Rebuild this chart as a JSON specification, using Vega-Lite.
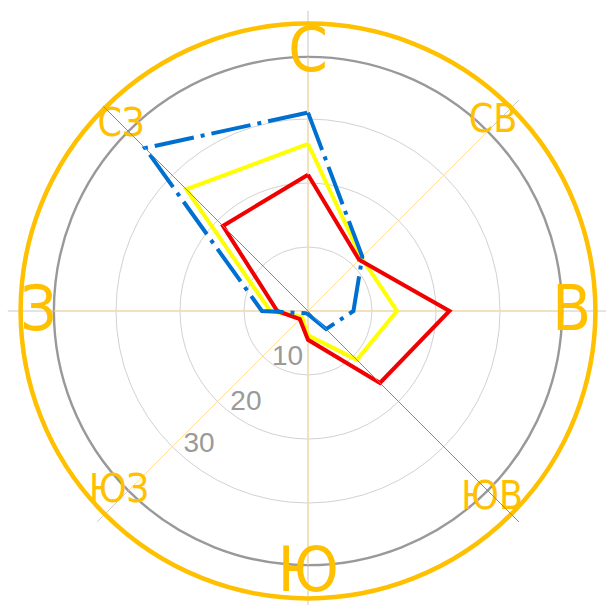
{
  "$schema": "https://vega.github.io/schema/vega-lite/v6.json",
  "width": 590,
  "height": 590,
  "autosize": {"type": "none"},
  "padding": {"left": 13, "top": 16, "right": 3, "bottom": 0},
  "background": "white",
  "config": {"view": {"stroke": null}, "axis": {"disable": true}},
  "datasets": {
    "series": [
      {"s": "blue", "dir": "С", "angle": 0, "v": 31.0, "o": 0},
      {"s": "blue", "dir": "СВ", "angle": 45, "v": 12.0, "o": 1},
      {"s": "blue", "dir": "В", "angle": 90, "v": 7.1, "o": 2},
      {"s": "blue", "dir": "ЮВ", "angle": 135, "v": 4.0, "o": 3},
      {"s": "blue", "dir": "Ю", "angle": 180, "v": 0.5, "o": 4},
      {"s": "blue", "dir": "ЮЗ", "angle": 225, "v": 0.5, "o": 5},
      {"s": "blue", "dir": "З", "angle": 270, "v": 7.2, "o": 6},
      {"s": "blue", "dir": "СЗ", "angle": 315, "v": 36.0, "o": 7},
      {"s": "blue", "dir": "С", "angle": 360, "v": 31.0, "o": 8},
      {"s": "yellow", "dir": "С", "angle": 0, "v": 26.1, "o": 0},
      {"s": "yellow", "dir": "СВ", "angle": 45, "v": 11.8, "o": 1},
      {"s": "yellow", "dir": "В", "angle": 90, "v": 13.9, "o": 2},
      {"s": "yellow", "dir": "ЮВ", "angle": 135, "v": 10.8, "o": 3},
      {"s": "yellow", "dir": "Ю", "angle": 180, "v": 3.8, "o": 4},
      {"s": "yellow", "dir": "ЮЗ", "angle": 225, "v": 1.3, "o": 5},
      {"s": "yellow", "dir": "З", "angle": 270, "v": 5.9, "o": 6},
      {"s": "yellow", "dir": "СЗ", "angle": 315, "v": 26.9, "o": 7},
      {"s": "yellow", "dir": "С", "angle": 360, "v": 26.1, "o": 8},
      {"s": "red", "dir": "С", "angle": 0, "v": 21.3, "o": 0},
      {"s": "red", "dir": "СВ", "angle": 45, "v": 11.3, "o": 1},
      {"s": "red", "dir": "В", "angle": 90, "v": 22.1, "o": 2},
      {"s": "red", "dir": "ЮВ", "angle": 135, "v": 15.9, "o": 3},
      {"s": "red", "dir": "Ю", "angle": 180, "v": 4.5, "o": 4},
      {"s": "red", "dir": "ЮЗ", "angle": 225, "v": 1.8, "o": 5},
      {"s": "red", "dir": "З", "angle": 270, "v": 4.8, "o": 6},
      {"s": "red", "dir": "СЗ", "angle": 315, "v": 18.8, "o": 7},
      {"s": "red", "dir": "С", "angle": 360, "v": 21.3, "o": 8}
    ],
    "spokesOuter": [
      {"angle": 0, "r1": -46.9, "r2": 46.9},
      {"angle": 45, "r1": -46.6, "r2": 46.6},
      {"angle": 90, "r1": -46.9, "r2": 46.9}
    ],
    "spokesInner": [
      {"angle": 0, "r1": -39.7, "r2": 39.7},
      {"angle": 45, "r1": -39.7, "r2": 39.7},
      {"angle": 90, "r1": -39.7, "r2": 39.7}
    ],
    "diag": [
      {"angle": 135, "r1": -45.2, "r2": 46.6}
    ],
    "rings": [{"r": 10}, {"r": 20}, {"r": 30}],
    "rim": [{"r": 39.7}],
    "outer": [{"r": 44.9}],
    "ringLabels": [
      {"label": "10", "angle": 204.5, "r": 7.72},
      {"label": "20", "angle": 214.6, "r": 17.08},
      {"label": "30", "angle": 219.6, "r": 26.69}
    ],
    "bigDirs": [
      {"label": "С", "angle": 0, "r": 40.5},
      {"label": "В", "angle": 90, "r": 41.2},
      {"label": "Ю", "angle": 180, "r": 40.8},
      {"label": "З", "angle": 270, "r": 42.1}
    ],
    "smallDirs": [
      {"label": "СВ", "angle": 43.9, "r": 41.7},
      {"label": "ЮВ", "angle": 135.2, "r": 40.8},
      {"label": "ЮЗ", "angle": 226.7, "r": 40.6},
      {"label": "СЗ", "angle": 315.1, "r": 41.4}
    ]
  },
  "layer": [
    {
      "data": {"name": "spokesOuter"},
      "transform": [
        {"calculate": "datum.r1 * sin(datum.angle * PI / 180)", "as": "x"},
        {"calculate": "datum.r1 * cos(datum.angle * PI / 180)", "as": "y"},
        {"calculate": "datum.r2 * sin(datum.angle * PI / 180)", "as": "x2"},
        {"calculate": "datum.r2 * cos(datum.angle * PI / 180)", "as": "y2"}
      ],
      "mark": {"type": "rule", "stroke": "#c8c8c8", "strokeWidth": 1},
      "encoding": {
        "x": {"field": "x", "type": "quantitative", "scale": {"domain": [-46.09, 46.09], "nice": false, "zero": false}, "axis": null},
        "y": {"field": "y", "type": "quantitative", "scale": {"domain": [-46.09, 46.09], "nice": false, "zero": false}, "axis": null},
        "x2": {"field": "x2"},
        "y2": {"field": "y2"}
      }
    },
    {
      "data": {"name": "rings"},
      "mark": {"type": "arc", "theta": 0, "theta2": 6.2832, "fillOpacity": 0, "stroke": "#d2d2d2", "strokeWidth": 1},
      "encoding": {
        "radius": {"field": "r", "type": "quantitative", "stack": null, "scale": {"type": "linear", "domain": [0, 46.09], "range": [0, 295], "zero": true}}
      }
    },
    {
      "data": {"name": "rim"},
      "mark": {"type": "arc", "theta": 0, "theta2": 6.2832, "fillOpacity": 0, "stroke": "#999999", "strokeWidth": 2.4},
      "encoding": {
        "radius": {"field": "r", "type": "quantitative", "stack": null, "scale": {"type": "linear", "domain": [0, 46.09], "range": [0, 295], "zero": true}}
      }
    },
    {
      "data": {"name": "spokesInner"},
      "transform": [
        {"calculate": "datum.r1 * sin(datum.angle * PI / 180)", "as": "x"},
        {"calculate": "datum.r1 * cos(datum.angle * PI / 180)", "as": "y"},
        {"calculate": "datum.r2 * sin(datum.angle * PI / 180)", "as": "x2"},
        {"calculate": "datum.r2 * cos(datum.angle * PI / 180)", "as": "y2"}
      ],
      "mark": {"type": "rule", "stroke": "#ffdf9c", "strokeWidth": 1},
      "encoding": {
        "x": {"field": "x", "type": "quantitative", "axis": null},
        "y": {"field": "y", "type": "quantitative", "axis": null},
        "x2": {"field": "x2"},
        "y2": {"field": "y2"}
      }
    },
    {
      "data": {"name": "outer"},
      "mark": {"type": "arc", "theta": 0, "theta2": 6.2832, "fillOpacity": 0, "stroke": "#ffc000", "strokeWidth": 4.5},
      "encoding": {
        "radius": {"field": "r", "type": "quantitative", "stack": null, "scale": {"type": "linear", "domain": [0, 46.09], "range": [0, 295], "zero": true}}
      }
    },
    {
      "data": {"name": "ringLabels"},
      "transform": [
        {"calculate": "datum.r * sin(datum.angle * PI / 180)", "as": "x"},
        {"calculate": "datum.r * cos(datum.angle * PI / 180)", "as": "y"}
      ],
      "mark": {"type": "text", "font": "Liberation Sans", "fontSize": 28, "fill": "#9a9a9a", "align": "center", "baseline": "middle", "dy": 1},
      "encoding": {
        "x": {"field": "x", "type": "quantitative", "axis": null},
        "y": {"field": "y", "type": "quantitative", "axis": null},
        "text": {"field": "label"}
      }
    },
    {
      "data": {"name": "bigDirs"},
      "transform": [
        {"calculate": "datum.r * sin(datum.angle * PI / 180)", "as": "x"},
        {"calculate": "datum.r * cos(datum.angle * PI / 180)", "as": "y"}
      ],
      "mark": {"type": "text", "font": "Liberation Sans Narrow, DejaVu Sans Condensed, Roboto Condensed, Liberation Sans", "fontSize": 63, "fill": "#ffc000", "align": "center", "baseline": "middle", "dy": 0},
      "encoding": {
        "x": {"field": "x", "type": "quantitative", "axis": null},
        "y": {"field": "y", "type": "quantitative", "axis": null},
        "text": {"field": "label"}
      }
    },
    {
      "data": {"name": "smallDirs"},
      "transform": [
        {"calculate": "datum.r * sin(datum.angle * PI / 180)", "as": "x"},
        {"calculate": "datum.r * cos(datum.angle * PI / 180)", "as": "y"}
      ],
      "mark": {"type": "text", "font": "Liberation Sans Narrow, DejaVu Sans Condensed, Roboto Condensed, Liberation Sans", "fontSize": 39, "fill": "#ffc000", "align": "center", "baseline": "middle", "dy": 1},
      "encoding": {
        "x": {"field": "x", "type": "quantitative", "axis": null},
        "y": {"field": "y", "type": "quantitative", "axis": null},
        "text": {"field": "label"}
      }
    },
    {
      "data": {"name": "series"},
      "transform": [
        {"filter": "datum.s === 'yellow'"},
        {"calculate": "datum.v * sin(datum.angle * PI / 180)", "as": "x"},
        {"calculate": "datum.v * cos(datum.angle * PI / 180)", "as": "y"}
      ],
      "mark": {"type": "line", "stroke": "#ffff00", "strokeWidth": 4, "strokeJoin": "miter"},
      "encoding": {
        "x": {"field": "x", "type": "quantitative", "axis": null},
        "y": {"field": "y", "type": "quantitative", "axis": null},
        "order": {"field": "o", "type": "quantitative"}
      }
    },
    {
      "data": {"name": "series"},
      "transform": [
        {"filter": "datum.s === 'red'"},
        {"calculate": "datum.v * sin(datum.angle * PI / 180)", "as": "x"},
        {"calculate": "datum.v * cos(datum.angle * PI / 180)", "as": "y"}
      ],
      "mark": {"type": "line", "stroke": "#f00000", "strokeWidth": 4, "strokeJoin": "miter"},
      "encoding": {
        "x": {"field": "x", "type": "quantitative", "axis": null},
        "y": {"field": "y", "type": "quantitative", "axis": null},
        "order": {"field": "o", "type": "quantitative"}
      }
    },
    {
      "data": {"name": "series"},
      "transform": [
        {"filter": "datum.s === 'blue'"},
        {"calculate": "datum.v * sin(datum.angle * PI / 180)", "as": "x"},
        {"calculate": "datum.v * cos(datum.angle * PI / 180)", "as": "y"}
      ],
      "mark": {"type": "line", "stroke": "#0070d0", "strokeWidth": 4, "strokeJoin": "miter", "strokeDash": [40, 7, 4, 7]},
      "encoding": {
        "x": {"field": "x", "type": "quantitative", "axis": null},
        "y": {"field": "y", "type": "quantitative", "axis": null},
        "order": {"field": "o", "type": "quantitative"}
      }
    },
    {
      "data": {"name": "diag"},
      "transform": [
        {"calculate": "datum.r1 * sin(datum.angle * PI / 180)", "as": "x"},
        {"calculate": "datum.r1 * cos(datum.angle * PI / 180)", "as": "y"},
        {"calculate": "datum.r2 * sin(datum.angle * PI / 180)", "as": "x2"},
        {"calculate": "datum.r2 * cos(datum.angle * PI / 180)", "as": "y2"}
      ],
      "mark": {"type": "rule", "stroke": "#8a8a8a", "strokeWidth": 1},
      "encoding": {
        "x": {"field": "x", "type": "quantitative", "axis": null},
        "y": {"field": "y", "type": "quantitative", "axis": null},
        "x2": {"field": "x2"},
        "y2": {"field": "y2"}
      }
    }
  ]
}
